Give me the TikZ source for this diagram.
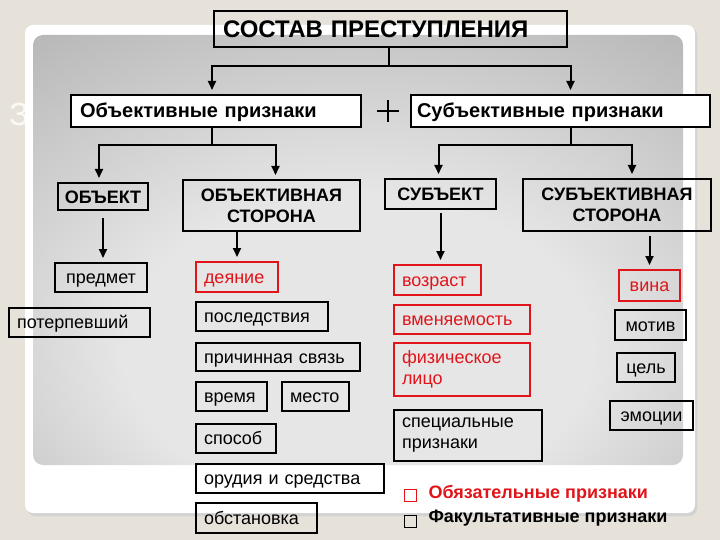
\documentclass[tikz,border=0pt]{standalone}
\usepackage{fontspec}
\setmainfont{Liberation Sans}
\usetikzlibrary{arrows.meta}

\definecolor{pagebg}{RGB}{230,226,218}
\definecolor{panellight}{RGB}{230,230,230}
\definecolor{paneldark}{RGB}{155,155,155}
\definecolor{mustred}{RGB}{225,20,25}
\pgfdeclareradialshading{panelshade}{\pgfpoint{0bp}{-15bp}}{color(0bp)=(panellight); color(18bp)=(panellight); color(55bp)=(paneldark); color(80bp)=(paneldark)}

\tikzset{
  box/.style={draw, line width=2pt, inner ysep=0pt, font=\fontsize{18}{21}\selectfont},
  oneline/.style={text height=14pt, text depth=2pt},
  lbox/.style={box, oneline, inner xsep=8pt, align=left},
  lboxtwo/.style={box, inner xsep=8pt, align=left},
  cbox/.style={box, oneline, inner xsep=0pt, align=center},
  head/.style={cbox, text height=14pt, text depth=0pt, font=\fontsize{18}{21}\selectfont\bfseries},
  headtwo/.style={box, inner xsep=0pt, align=center, font=\fontsize{18}{21}\selectfont\bfseries},
  part/.style={box, fill=white, align=left, text height=14pt, text depth=0pt, font=\fontsize{20}{22}\selectfont\bfseries},
  must/.style={draw=mustred, text=mustred},
  line/.style={line width=2pt},
  arr/.style={line width=2pt, -{Triangle[length=9pt,width=8pt]}, shorten >=4pt},
}

\begin{document}
\begin{tikzpicture}[x=1pt, y=-1pt]
% page and panel
\fill[pagebg] (0,0) rectangle (720,540);
\fill[gray!35, rounded corners=8pt] (27,27) rectangle (697,516);
\fill[white, rounded corners=8pt] (25,25) rectangle (695,513);
\shade[shading=panelshade, rounded corners=10pt] (33,35) rectangle (683,465);
\node[text=white, opacity=.85, font=\fontsize{32}{32}\selectfont] (ghost) at (19,114) {З};

% top level
\node[box, inner xsep=9pt, align=left, text width=335, minimum height=36, text height=18pt, text depth=0pt, font=\fontsize{24}{26}\selectfont\bfseries] (title) at (390.5,29) {СОСТАВ ПРЕСТУПЛЕНИЯ};
\node[part, inner xsep=9pt, text width=272, minimum height=32] (objpart) at (216,111) {Объективные признаки};
\node[part, inner xsep=6pt, text width=287, minimum height=32] (subjpart) at (560.5,111) {Субъективные признаки};
\node[minimum size=22pt, inner sep=0pt] (plus) at (388,111) {};
\draw[line width=1.3pt] (plus.west) -- (plus.east) (plus.north) -- (plus.south);

% elements
\node[head, minimum width=90, minimum height=27] (object) at (103,196.5) {ОБЪЕКТ};
\node[headtwo, minimum width=177, minimum height=51] (objside) at (271.5,205.5) {ОБЪЕКТИВНАЯ\\СТОРОНА};
\node[head, minimum width=111, minimum height=30] (subject) at (440.5,194) {СУБЪЕКТ};
\node[headtwo, minimum width=188, minimum height=52] (subjside) at (617,205) {СУБЪЕКТИВНАЯ\\СТОРОНА};

% object
\node[cbox, minimum width=92, minimum height=29] (predmet) at (101,277.5) {предмет};
\node[lbox, text width=125, minimum height=29] (victim) at (79.5,322.5) {потерпевший};

% objective side
\node[lbox, must, text width=66, minimum height=30] (act) at (237,277) {деяние};
\node[lbox, text width=116, minimum height=29] (result) at (262,316.5) {последствия};
\node[lbox, text width=148, minimum height=28] (causal) at (278,357) {причинная связь};
\node[lbox, text width=55, minimum height=29] (time) at (231.5,396.5) {время};
\node[lbox, text width=51, minimum height=29] (place) at (315.5,396.5) {место};
\node[lbox, text width=64, minimum height=29] (method) at (236,438.5) {способ};
\node[lbox, text width=172, minimum height=29] (tools) at (290,478.5) {орудия и средства};
\node[lbox, text width=105, minimum height=30] (setting) at (256.5,518) {обстановка};

% subject
\node[lbox, must, text width=71, minimum height=30] (age) at (437.5,280) {возраст};
\node[lbox, must, text width=120, minimum height=29] (sanity) at (462,319.5) {вменяемость};
\node[lboxtwo, must, text width=120, minimum height=53] (person) at (462,369.5) {физическое\\лицо};
\node[lboxtwo, text width=132, minimum height=51] (special) at (468,435.5) {специальные\\признаки};

% subjective side
\node[cbox, must, minimum width=61, minimum height=31] (guilt) at (649.5,285.5) {вина};
\node[cbox, minimum width=71, minimum height=30] (motive) at (650.5,325) {мотив};
\node[cbox, minimum width=58, minimum height=29] (goal) at (646,367.5) {цель};
\node[cbox, minimum width=83, minimum height=29] (emotion) at (651.5,415.5) {эмоции};

% connectors
\draw[line] ([xshift=-2pt]title.south) -- ++(0,18) coordinate (forkA);
\draw[arr] (forkA) -| ([xshift=-4pt]objpart.north);
\draw[arr] (forkA) -| ([xshift=10pt]subjpart.north);
\draw[line] ([xshift=-4pt]objpart.south) -- ++(0,17) coordinate (forkB);
\draw[arr] (forkB) -| ([xshift=-4pt]object.north);
\draw[arr] (forkB) -| ([xshift=4pt]objside.north);
\draw[line] ([xshift=10pt]subjpart.south) -- ++(0,17) coordinate (forkC);
\draw[arr] (forkC) -| ([xshift=-2pt]subject.north);
\draw[arr] (forkC) -| ([xshift=15pt]subjside.north);
\draw[arr, shorten <=7pt] (object.south) -- (object.south |- predmet.north);
\draw[arr] (act.north |- objside.south) -- (act.north);
\draw[arr, shorten <=3pt] (subject.south) -- (subject.south |- age.north);
\draw[arr, shorten <=4pt] (guilt.north |- subjside.south) -- (guilt.north);

% legend
\node[draw=mustred, line width=1.5pt, minimum size=12pt, inner sep=0pt] (keymust) at (410.5,495.5) {};
\node[anchor=west, text=mustred, font=\fontsize{18}{21}\selectfont\bfseries] (keymusttext) at (425,494) {Обязательные признаки};
\node[draw, line width=1.5pt, minimum size=12pt, inner sep=0pt] (keyopt) at (410.5,521.5) {};
\node[anchor=west, font=\fontsize{18}{21}\selectfont\bfseries] (keyopttext) at (425,518) {Факультативные признаки};
\end{tikzpicture}
\end{document}
